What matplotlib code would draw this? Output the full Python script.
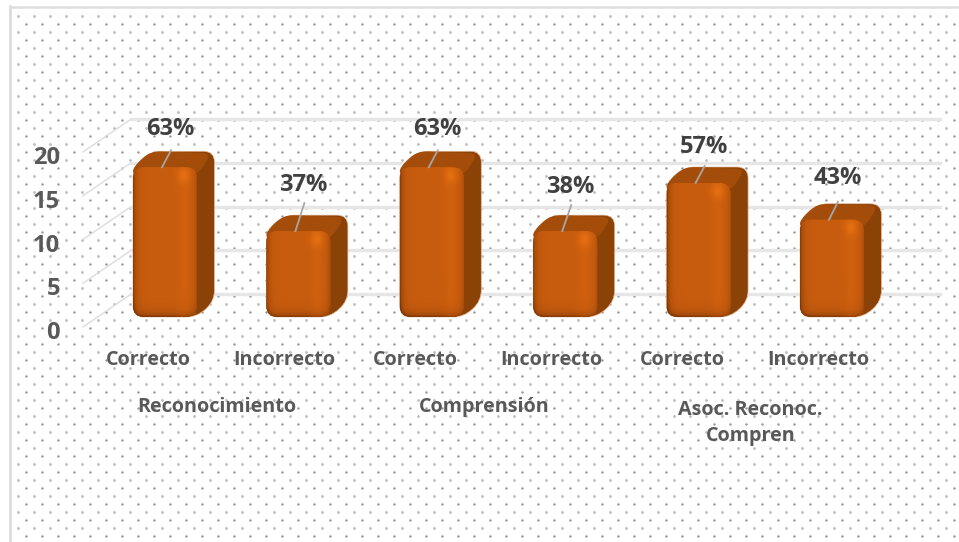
import numpy as np
import matplotlib
matplotlib.use("Agg")
import matplotlib.pyplot as plt
from matplotlib.colors import LinearSegmentedColormap
from matplotlib.patches import PathPatch
from matplotlib.path import Path

# values
categories = ["Correcto", "Incorrecto", "Correcto", "Incorrecto", "Correcto", "Incorrecto"]
groups = ["Reconocimiento", "Comprensión", "Asoc. Reconoc.\nCompren"]
values = [17, 9.7, 17, 9.7, 15.2, 11]
percent = ["63%", "37%", "63%", "38%", "57%", "43%"]
y_ticks = [0, 5, 10, 15, 20]

W, H = 959, 542
plt.rcParams['font.family'] = ['Open Sans', 'DejaVu Sans']

# pixel scale of the chart, category 0 sits at x=165, value 0 at y=316
x_px = 133.4
y_px = 8.75
x0_px = 165
y0_px = 316

# depth of the 3d effect, in data units
dx = 17.5 / x_px
dy = 16 / y_px
back = 2.5  # back wall is shifted up by this many value units
text_col = "#595959"

# label height above the bar top and leader line end, in pixels
label_gap = [38, 46, 38, 44, 36, 42]
leader_end = [17, 28, 17, 26, 17, 18]

cmap_bar = LinearSegmentedColormap.from_list(
    "bar", ["#6b3004", "#a84c0a", "#c45a0e", "#d8660f", "#e87412"])

fig = plt.figure(figsize=(W / 100, H / 100), dpi=100)
ax = fig.add_axes([0, 0, 1, 1])


def px(x, y):
    return (x - x0_px) / x_px, (y0_px - y) / y_px


# closed polygon with rounded corners, pts are in pixels
def rounded(pts, r):
    pts = np.array(pts, dtype=float)
    verts = []
    codes = []
    n = len(pts)
    for k in range(n):
        p = pts[k]
        a = pts[k - 1] - p
        b = pts[(k + 1) % n] - p
        s = p + a / np.hypot(*a) * min(r, np.hypot(*a) / 2)
        e = p + b / np.hypot(*b) * min(r, np.hypot(*b) / 2)
        verts += [s, p, e]
        codes += [Path.LINETO if k else Path.MOVETO, Path.CURVE3, Path.CURVE3]
    verts.append(verts[0])
    codes.append(Path.CLOSEPOLY)
    verts = np.array(verts)
    xs, ys = px(verts[:, 0], verts[:, 1])
    return Path(np.column_stack([xs, ys]), codes)


# dotted background
for r in range(0, 66):
    xs = np.arange(18 + 8 * (r % 2), W, 16)
    ys = np.full(xs.shape, 16.0 + 8 * r)
    p = px(xs, ys)
    ax.scatter(p[0], p[1], s=4 if r % 2 == 0 else 3,
               color="#bcbcbc" if r % 2 == 0 else "#959595", linewidths=0, zorder=1)

# frame
ax.plot(*px(np.array([10, 10]), np.array([542, 6])), color="#d9d9d9", lw=1.8, zorder=2)
ax.plot(*px(np.array([10, 959]), np.array([7, 7])), color="#dedede", lw=1.8, zorder=2)

# grid lines, left wall and back wall
for t in y_ticks:
    x_a = px(83, 0)[0]
    x_b = px(131, 0)[0]
    x_c = px(940, 0)[0]
    ax.plot([x_a, x_b], [t - 1.25, t + back], color="#dcdcdc", lw=1.0, zorder=2)
    ax.plot([x_b, x_c], [t + back, t + back], color="#e6e6e6", lw=2.4, zorder=2)
    ax.text(px(60, 0)[0], t - 1.95, str(t), ha="right", va="center", fontsize=17,
            fontweight="bold", color=text_col, zorder=5)

# bars
for i, v in enumerate(values):
    cx = x0_px + i * x_px
    left = cx - 32
    right = cx + 32
    top = y0_px - v * y_px
    bottom = y0_px + 1
    d_x = dx * x_px
    d_y = dy * y_px

    # outline of the whole block, dark side shows through
    outline = rounded([(left, bottom), (right, bottom), (right + d_x, bottom - d_y),
                       (right + d_x, top - d_y), (left + d_x, top - d_y), (left, top)], 11)
    ax.add_patch(PathPatch(outline, fc="#8a4206", ec="#e9b898", lw=0.5, zorder=3))

    # top face, lighter than the side
    top_face = rounded([(left, top + 8), (right, top + 8), (right + d_x - 3, top - d_y + 2),
                        (left + d_x, top - d_y), (left, top)], 9)
    ax.add_patch(PathPatch(top_face, fc="#a44d0a", ec="none", zorder=3.2))

    # front face with shading along its edges
    front = rounded([(left, bottom), (right, bottom), (right, top), (left, top)], 11)
    patch = PathPatch(front, fc="#c45a0e", ec="none", zorder=4)
    ax.add_patch(patch)
    u = np.linspace(0, 1, 65)
    w = np.linspace(0, 1, 150)
    uu, ww = np.meshgrid(u, w)
    shade = 0.55 + 0.08 * np.exp(-((uu - 0.8) / 0.1) ** 2)
    shade = shade - 0.42 * np.exp(-uu / 0.06) - 0.25 * np.exp(-(1 - uu) / 0.04)
    shade = shade - 0.45 * np.exp(-(1 - ww) * (bottom - top) / 5)
    shade = shade + 0.3 * np.exp(-((uu - 0.8) / 0.1) ** 2 - (ww * (bottom - top) / 8 - 1) ** 2)
    img = ax.imshow(shade, cmap=cmap_bar, vmin=0, vmax=1, aspect="auto", zorder=4.1,
                    origin="upper", extent=[i - 32 / x_px, i + 32 / x_px, -1 / y_px, v],
                    interpolation="bilinear")
    img.set_clip_path(patch)

    # label with its leader line
    x_s, y_s = px(cx - 3, top)
    x_e, y_e = px(cx + 6, top - leader_end[i])
    ax.plot([x_s, x_e], [y_s, y_e], color="#a6a6a6", lw=1.3, zorder=6)
    ax.text(i + 0.04, v + label_gap[i] / y_px, percent[i], ha="center", va="center", fontsize=17,
            fontweight="bold", color="#404040", zorder=6)
    shift = 0.125 if categories[i] == "Correcto" else 0.105
    ax.text(i - shift, px(0, 360)[1], categories[i], ha="center", va="center", fontsize=14.2,
            fontweight="bold", color=text_col, zorder=6)

# group labels
for j, g in enumerate(groups):
    y_g = px(0, 423)[1] if "\n" in g else px(0, 407)[1]
    ax.text(2 * j + 0.39, y_g, g, ha="center", va="center", fontsize=14.2, fontweight="bold",
            color=text_col, linespacing=1.45, zorder=6)

ax.set_xlim(-x0_px / x_px, (W - x0_px) / x_px)
ax.set_ylim((y0_px - H) / y_px, y0_px / y_px)
ax.axis("off")
fig.savefig("out.png", dpi=100, facecolor="white")
